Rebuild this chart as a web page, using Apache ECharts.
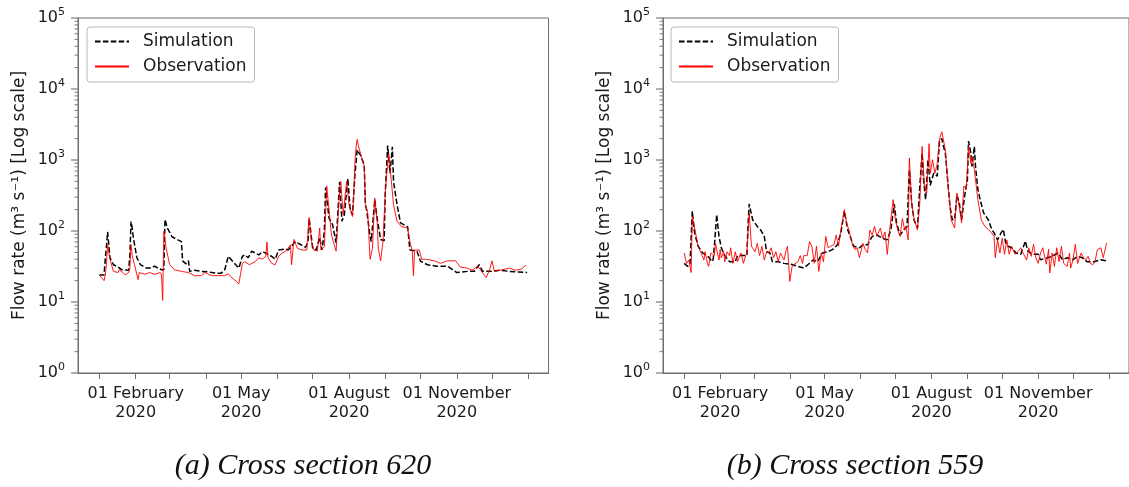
<!DOCTYPE html>
<html>
<head>
<meta charset="utf-8">
<script src="https://cdn.jsdelivr.net/npm/echarts@6/dist/echarts.min.js"></script>
<style>
html,body{margin:0;padding:0;background:#fff;}
#chart{width:1129px;height:487px;}
</style>
</head>
<body>
<div id="chart"></div>
<script>
// ---- Data: [day offset from 01 Jan 2020, flow rate m3/s] ----
const simA = [[0,24],[4,24],[5,40],[6,60],[7,97],[8,65],[9,42],[12,33.5],[16,31],[19,28.5],[25,28],[26,45],[27,136],[28,110],[29,80],[32,42],[35,33.5],[40,30],[44,30],[47,32],[50,30],[53,28.5],[55,28.5],[56,145],[58,110],[62,83],[67,75],[70,71],[71,38],[74,34.5],[76,38],[77,27],[81,28],[87,27],[93,26.5],[99,25.5],[104,25.5],[107,28.5],[110,44],[114,37],[119,30],[122,44],[124,46],[127,42],[130,52],[133,49],[136,46],[139,51],[142,49],[144,46],[147,44],[150,40],[153,54],[159,56],[161,54],[164,61],[167,71],[172,64],[176,59],[178,70],[179,150],[180,110],[182,57],[185,54],[188,81],[190,54],[192,100],[193,410],[196,152],[199,123],[202,68],[203,64],[205,490],[207,137],[209,169],[212,550],[214,200],[216,169],[218,600],[220,1400],[223,1150],[226,850],[227,235],[228,200],[231,84],[232,71],[235,275],[237,152],[240,76],[243,73],[244,360],[246,1600],[248,650],[250,1530],[251,500],[254,235],[257,130],[263,115],[265,54],[271,52],[274,37.5],[280,33.5],[288,32],[297,32],[305,26],[314,27],[320,27],[324,33.5],[327,27],[334,27],[342,28],[350,27],[358,26.5],[365,26]];
const obsA = [[0,23.5],[2,22],[4,20],[5,24],[6,33.5],[7,64],[8,50],[9,40],[12,27],[16,26],[17,28.5],[20,26],[22,24],[25,26],[26,30],[27,64],[28,45],[30,33.5],[33,20.6],[34,26],[39,24.5],[43,26],[47,24.5],[52,26],[53,24],[54,10.5],[55,99],[57,57],[60,33.5],[64,28.5],[70,27],[76,26],[81,23.5],[87,23.5],[90,26],[96,23.5],[102,23.5],[107,23.5],[110,25],[113,22],[117,19.5],[119,18],[122,35],[124,37],[128,33.5],[133,37],[136,42],[139,40],[142,44],[143,70],[144,42],[147,35],[150,33.5],[153,44],[156,49],[159,52],[161,57],[163,64],[164,33.5],[166,76],[169,57],[173,54],[177,54],[179,155],[181,71],[183,54],[186,52],[188,110],[189,54],[192,60],[194,430],[196,200],[198,88],[202,52],[205,360],[206,500],[208,170],[211,500],[213,235],[216,160],[217,300],[218,900],[219,1500],[220,1950],[221,1600],[223,1200],[226,830],[227,235],[229,180],[231,40],[233,57],[235,290],[237,137],[238,57],[240,38],[242,71],[244,360],[246,900],[247,1200],[249,530],[251,235],[254,137],[258,115],[263,110],[265,71],[267,52],[268,23.5],[269,54],[273,54],[275,40],[279,40],[286,38],[291,35],[297,38],[304,38],[308,31],[314,30],[318,28],[323,32],[325,28.5],[330,22],[333,28.5],[335,38],[337,27],[342,28],[346,29],[350,30],[355,28],[360,29],[364,33]];
const simB = [[0,35],[3,31.7],[5,34],[6,80],[7,190],[8,130],[9,94],[12,61],[16,49],[21,43],[24,37],[25,40],[26,61],[28,170],[30,84],[32,58],[35,45],[39,37],[44,37],[46,45],[51,45],[54,45],[55,120],[56,240],[59,144],[63,116],[66,103],[69,84],[71,51],[74,49],[76,37],[81,37],[86,35],[92,34],[98,31.7],[103,30],[107,34],[111,39],[115,37],[119,49],[124,51],[128,55],[132,64],[135,94],[138,190],[141,103],[144,75],[146,61],[151,58],[154,64],[158,64],[162,84],[166,88],[171,79],[175,75],[178,103],[181,240],[183,129],[186,88],[189,103],[192,116],[194,730],[196,248],[198,144],[201,110],[203,425],[205,1256],[206,590],[208,276],[210,1010],[212,440],[215,650],[218,590],[220,1900],[222,2000],[223,1650],[225,1250],[227,520],[229,222],[231,144],[233,144],[235,320],[237,250],[239,144],[240,150],[242,343],[244,520],[245,1850],[247,1250],[248,813],[250,1550],[251,813],[253,390],[255,276],[258,180],[262,144],[265,105],[267,94],[270,75],[273,94],[275,105],[277,68],[279,61],[282,58],[286,49],[290,47],[294,72],[296,52],[300,47],[305,47],[307,39.4],[313,42],[317,44],[322,49],[326,39.4],[330,42],[335,39.4],[339,44],[343,42],[347,37],[353,37],[359,39.4],[364,38]];
const obsB = [[0,49],[2,35],[4,39],[6,26],[7,160],[9,110],[12,61],[15,47],[17,39],[18,51],[20,35],[21,31.7],[23,49],[26,45],[27,67],[28,55],[30,39],[31,55],[32,42],[34,51],[35,37],[37,51],[39,45],[40,58],[42,35],[44,51],[46,37],[49,49],[51,35],[53,45],[54,49],[56,179],[58,61],[61,51],[63,67],[65,45],[67,61],[69,39],[71,51],[73,49],[75,58],[77,42],[79,51],[81,37],[83,49],[86,39],[88,55],[89,61],[91,19.5],[93,31.7],[95,34],[98,37],[100,45],[102,35],[103,45],[106,45],[108,71],[110,61],[112,35],[114,61],[116,27],[118,49],[120,37],[122,84],[124,58],[126,61],[129,64],[131,88],[133,61],[135,103],[138,200],[140,129],[142,103],[145,64],[147,55],[149,58],[151,42],[154,67],[156,55],[158,49],[160,103],[162,88],[164,116],[166,84],[169,110],[171,79],[173,97],[175,47],[177,103],[180,276],[182,144],[184,103],[186,84],[188,150],[190,103],[191,116],[193,75],[194,1070],[196,248],[198,150],[201,103],[203,248],[205,1555],[207,425],[209,343],[211,1700],[212,650],[214,1010],[216,650],[218,880],[220,2000],[222,2500],[224,1700],[225,1400],[227,520],[230,144],[233,110],[235,343],[237,222],[239,130],[241,430],[243,390],[245,1550],[247,900],[248,1100],[250,740],[253,276],[256,144],[259,116],[262,105],[265,94],[267,84],[268,42],[270,75],[272,49],[274,79],[276,47],[278,75],[280,47],[282,61],[285,47],[288,52],[290,58],[292,49],[295,39],[297,58],[299,44],[301,65],[303,42],[305,35],[307,49],[309,58],[312,34],[314,55],[315,25.6],[317,49],[319,31.7],[321,58],[323,37],[325,61],[327,35],[330,31.7],[332,49],[333,30],[335,39],[337,65],[339,35],[342,49],[344,42],[346,39],[348,44],[350,35],[352,33.5],[354,37],[356,55],[359,58],[361,42],[362,49],[364,68]];

const seriesNames = ['Simulation', 'Observation'];
const captions = ['(a) Cross section 620', '(b) Cross section 559'];
const monthNames = ['January','February','March','April','May','June','July','August','September','October','November','December'];
const tickMonths = [0,1,2,3,4,5,6,7,8,9,10,11,12];   // month starts (12 = Jan 2021)
const labelMonths = [1,4,7,10];
const yMin = 1, yMax = 100000;
const majorTicksY = [1,10,100,1000,10000,100000];
const minorMult = [2,3,4,5,6,7,8,9];

// ---- helpers ----
const DAY = 86400000;
const T0 = Date.UTC(2020,0,1);
const dayOf = (y,m,d) => (Date.UTC(y,m,d) - T0) / DAY;
const xMin = -18.25;
const xMax = dayOf(2020,11,31) + 18.25;
const tickVals = tickMonths.map(m => dayOf(2020, m, 1));
const labelVals = labelMonths.map(m => dayOf(2020, m, 1));
const minorTicksY = [];
majorTicksY.slice(0,-1).forEach(d => minorMult.forEach(k => minorTicksY.push(d*k)));

const FONT = 'DejaVu Sans';
const TXT = '#1a1a1a';
const AX = '#6e6e6e';

function xAxisCfg(gi){
  return {
    type:'value', gridIndex:gi, min:xMin, max:xMax,
    axisLine:{show:true, onZero:false, lineStyle:{color:AX, width:1}},
    axisTick:{show:true, inside:false, customValues:tickVals, length:6, lineStyle:{color:AX, width:1}},
    axisLabel:{show:true, customValues:labelVals, margin:11, fontFamily:FONT, fontSize:16, color:TXT, lineHeight:19,
      formatter:function(v){ const d=new Date(T0 + Math.round(v)*DAY); return String(d.getUTCDate()).padStart(2,'0')+' '+monthNames[d.getUTCMonth()]+'\n'+d.getUTCFullYear(); }},
    splitLine:{show:false}, minorTick:{show:false}
  };
}
function yAxisCfg(gi){
  return {
    type:'log', logBase:10, gridIndex:gi, min:yMin, max:yMax, splitNumber:5, position:'left',
    axisLine:{show:true, onZero:false, lineStyle:{color:AX, width:1}},
    axisTick:{show:false},
    minorTick:{show:false},
    splitLine:{show:false},
    axisLabel:{margin:13, color:TXT,
      formatter:function(v){ const e=Math.round(Math.log10(v)); return '{b|10}{s|'+e+'}'; },
      rich:{ b:{fontFamily:FONT, fontSize:16, color:TXT, lineHeight:22}, s:{fontFamily:FONT, fontSize:11, color:TXT, lineHeight:12, verticalAlign:'top'} }},
    name:'Flow rate (m³ s⁻¹) [Log scale]', nameLocation:'middle', nameRotate:90, nameGap:50,
    nameTextStyle:{fontFamily:FONT, fontSize:17, color:TXT}
  };
}
function legendCfg(left){
  return {
    data:seriesNames, orient:'vertical', left:left, top:27,
    itemWidth:34, itemHeight:12, itemGap:8,
    padding:[6,8,7,7],
    borderColor:'#b8b8b8', borderWidth:1, borderRadius:3, backgroundColor:'#fff',
    itemStyle:{opacity:0},
    textStyle:{fontFamily:FONT, fontSize:17, color:TXT, padding:[0,0,0,9]},
    selectedMode:false
  };
}
function simSeries(data, idx){
  return {name:seriesNames[0], type:'line', xAxisIndex:idx, yAxisIndex:idx, data:data,
    symbol:'none', showSymbol:false, smooth:false, z:2,
    lineStyle:{color:'#000', width:1.5, type:[5.5,2.4]}, itemStyle:{color:'#000'}};
}
function obsSeries(data, idx){
  return {name:seriesNames[1], type:'line', xAxisIndex:idx, yAxisIndex:idx, data:data,
    symbol:'none', showSymbol:false, smooth:false, z:3,
    lineStyle:{color:'#ff0000', width:0.9}, itemStyle:{color:'#ff0000'}};
}
function captionGraphics(){
  return [
    {type:'text', x:303, y:466, style:{text:captions[0], fontFamily:'Liberation Serif', fontStyle:'italic', fontSize:30, fill:'#111', textAlign:'center', textVerticalAlign:'middle'}},
    {type:'text', x:855, y:466, style:{text:captions[1], fontFamily:'Liberation Serif', fontStyle:'italic', fontSize:30, fill:'#111', textAlign:'center', textVerticalAlign:'middle'}}
  ];
}

const chart = echarts.init(document.getElementById('chart'), null, {renderer:'canvas'});
chart.setOption({
  animation:false,
  backgroundColor:'#fff',
  grid:[
    {left:78, top:18, width:470.5, height:355, show:true, borderColor:AX, borderWidth:1, backgroundColor:'transparent'},
    {left:663, top:18, width:470.5, height:355, show:true, borderColor:AX, borderWidth:1, backgroundColor:'transparent'}
  ],
  xAxis:[xAxisCfg(0), xAxisCfg(1)],
  yAxis:[yAxisCfg(0), yAxisCfg(1)],
  legend:[legendCfg(87), legendCfg(671)],
  series:[simSeries(simA,0), obsSeries(obsA,0), simSeries(simB,1), obsSeries(obsB,1)],
  graphic:captionGraphics()
});

// y-axis major/minor tick marks, positioned through the axes' own scales
try {
  const tickGraphics = captionGraphics();
  [0,1].forEach(gi => {
    const x0 = chart.convertToPixel({xAxisIndex:gi}, xMin);
    if (typeof x0 !== 'number' || !isFinite(x0)) return;
    [[majorTicksY,7,1.1],[minorTicksY,3.5,0.9]].forEach(([vals,len,w]) => {
      vals.forEach(v => {
        const y = chart.convertToPixel({yAxisIndex:gi}, v);
        if (typeof y !== 'number' || !isFinite(y)) return;
        tickGraphics.push({type:'line', z:10, silent:true,
          shape:{x1:x0-len, y1:y, x2:x0, y2:y}, style:{stroke:AX, lineWidth:w}});
      });
    });
  });
  chart.setOption({graphic:tickGraphics});
} catch (e) { /* keep chart as drawn */ }
</script>
</body>
</html>
